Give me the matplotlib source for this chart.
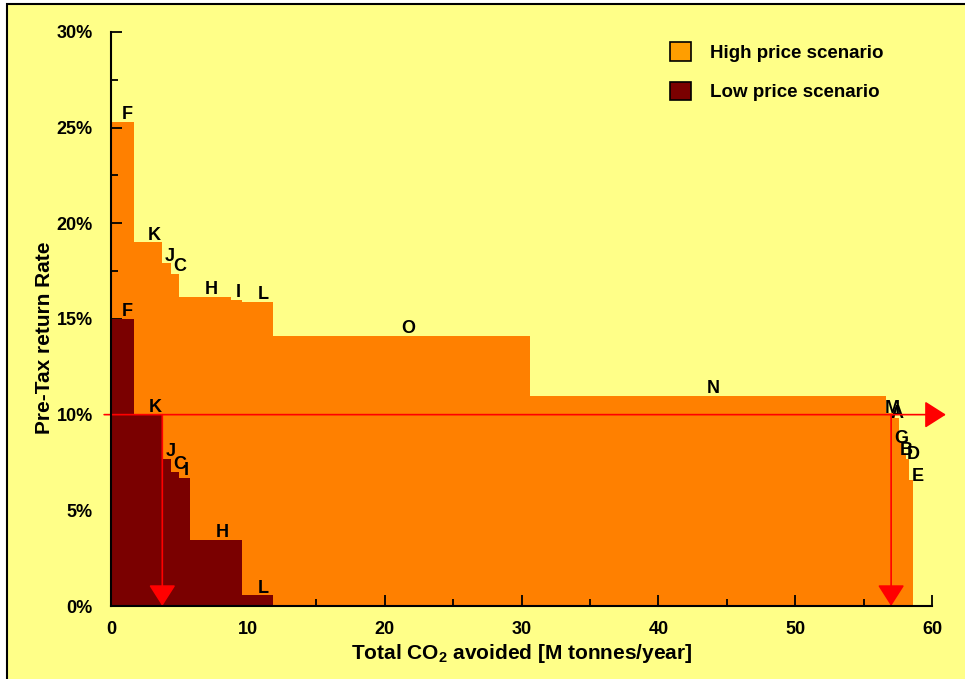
import numpy as np
import matplotlib.pyplot as plt
from matplotlib.patches import Rectangle, Patch
from matplotlib.ticker import FuncFormatter, MultipleLocator

plt.rcParams["font.family"] = ["Liberation Sans", "DejaVu Sans"]
plt.rcParams["mathtext.fontset"] = "custom"
plt.rcParams["mathtext.rm"] = "Liberation Sans"
plt.rcParams["mathtext.bf"] = "Liberation Sans:bold"

# High price scenario: project, CO2 avoided (M t/yr), pre-tax return (%)
high_labels = ["F", "K", "J", "C", "H", "I", "L", "O", "N", "M", "A", "G", "B", "D", "E"]
high_widths = [1.65, 2.1, 0.65, 0.6, 3.8, 0.8, 2.25, 18.75, 26.0, 0.7, 0.3, 0.3, 0.2, 0.2, 0.3]
high_rates = [25.3, 19.0, 17.9, 17.35, 16.15, 16.0, 15.9, 14.1, 11.0, 10.1, 9.8, 8.6, 8.0, 7.7, 6.6]

# Low price scenario
low_labels = ["F", "K", "J", "C", "I", "H", "L"]
low_widths = [1.65, 2.1, 0.65, 0.6, 0.8, 3.8, 2.25]
low_rates = [15.0, 10.0, 7.7, 7.0, 6.7, 3.45, 0.55]

hurdle = 10.0
hurdle_x = [3.75, 57.0]

bg = "#FFFF88"
orange = "#FF8000"
darkred = "#7A0000"

fig = plt.figure(figsize=(9.65, 6.79), dpi=100)
fig.patch.set_facecolor("white")
fig.patches.append(Rectangle((7 / 965, -0.05), 1.1, 1.05 - 4 / 679, transform=fig.transFigure,
                             facecolor=bg, edgecolor="black", lw=1.5, zorder=-1))

ax = fig.add_axes([0.115, 0.1075, 0.851, 0.8455])
ax.patch.set_alpha(0)

hl = np.concatenate([[0], np.cumsum(high_widths)[:-1]])
ll = np.concatenate([[0], np.cumsum(low_widths)[:-1]])
ax.bar(hl, high_rates, width=high_widths, align="edge", color=orange, lw=0, zorder=1)
ax.bar(ll, low_rates, width=low_widths, align="edge", color=darkred, lw=0, zorder=2)

# label nudges so the thin bars at the right stay readable
high_dx = [0.35, 0.45, 0.2, 0.3, 0.4, 0.1, 0.4, 0.5, 0.4, 0.1, 0.0, 0.0, 0.1, 0.45, 0.5]
high_dy = [0.15, 0.15, 0.15, 0.15, 0.15, 0.15, 0.15, 0.15, 0.15, 0.0, 0.0, -0.1, -0.1, 0.0, -0.05]
for x, w, h, t, dx, dy in zip(hl, high_widths, high_rates, high_labels, high_dx, high_dy):
    ax.text(x + w / 2 + dx, h + dy, t, ha="center", va="baseline", fontsize=13,
            fontweight="bold", zorder=5)
low_dx = [0.35, 0.5, 0.3, 0.35, 0.1, 0.4, 0.4]
for x, w, h, t, dx in zip(ll, low_widths, low_rates, low_labels, low_dx):
    ax.text(x + w / 2 + dx, h + 0.15, t, ha="center", va="baseline", fontsize=13,
            fontweight="bold", zorder=5)

# hurdle rate arrows
arrow = dict(arrowstyle="-|>,head_length=0.55,head_width=0.35", mutation_scale=24,
             color="red", lw=1.2, shrinkA=0, shrinkB=0)
ax.annotate("", xy=(61.0, hurdle), xytext=(-0.5, hurdle), arrowprops=arrow,
            annotation_clip=False, zorder=6)
for hx in hurdle_x:
    ax.annotate("", xy=(hx, 0), xytext=(hx, hurdle), arrowprops=arrow,
                annotation_clip=False, zorder=6)

ax.set_xlim(0, 60)
ax.set_ylim(0, 30)
ax.spines["top"].set_visible(False)
ax.spines["right"].set_visible(False)
for s in ["left", "bottom"]:
    ax.spines[s].set_linewidth(1.5)
    ax.spines[s].set_zorder(7)
ax.xaxis.set_major_locator(MultipleLocator(10))
ax.xaxis.set_minor_locator(MultipleLocator(5))
ax.yaxis.set_major_locator(MultipleLocator(5))
ax.yaxis.set_minor_locator(MultipleLocator(2.5))
ax.yaxis.set_major_formatter(FuncFormatter(lambda v, p: f"{v:.0f}%"))
ax.tick_params(which="both", direction="in", width=1.3, labelsize=13, zorder=7)
ax.tick_params(which="major", length=8)
ax.tick_params(which="minor", length=5)
ax.tick_params(axis="y", pad=13)
ax.tick_params(axis="x", pad=11)
for lab in ax.get_xticklabels() + ax.get_yticklabels():
    lab.set_fontweight("bold")

ax.set_xlabel(r"Total CO$_\mathbf{2}$ avoided [M tonnes/year]", fontsize=15,
              fontweight="bold", labelpad=3)
ax.set_ylabel("Pre-Tax return Rate", fontsize=15, fontweight="bold")
ax.yaxis.set_label_coords(-0.069, 0.467)

handles = [Patch(facecolor="#FF9E00", edgecolor="black", lw=1.2),
           Patch(facecolor=darkred, edgecolor="black", lw=1.2)]
ax.legend(handles, ["High price scenario", "Low price scenario"], loc="upper left",
          bbox_to_anchor=(0.66, 1.011), frameon=False,
          prop={"weight": "bold", "size": 13.5}, handlelength=1.15, handleheight=1.15,
          handletextpad=1.0, labelspacing=1.05)

fig.savefig("out.png", dpi=100, facecolor=fig.get_facecolor())
